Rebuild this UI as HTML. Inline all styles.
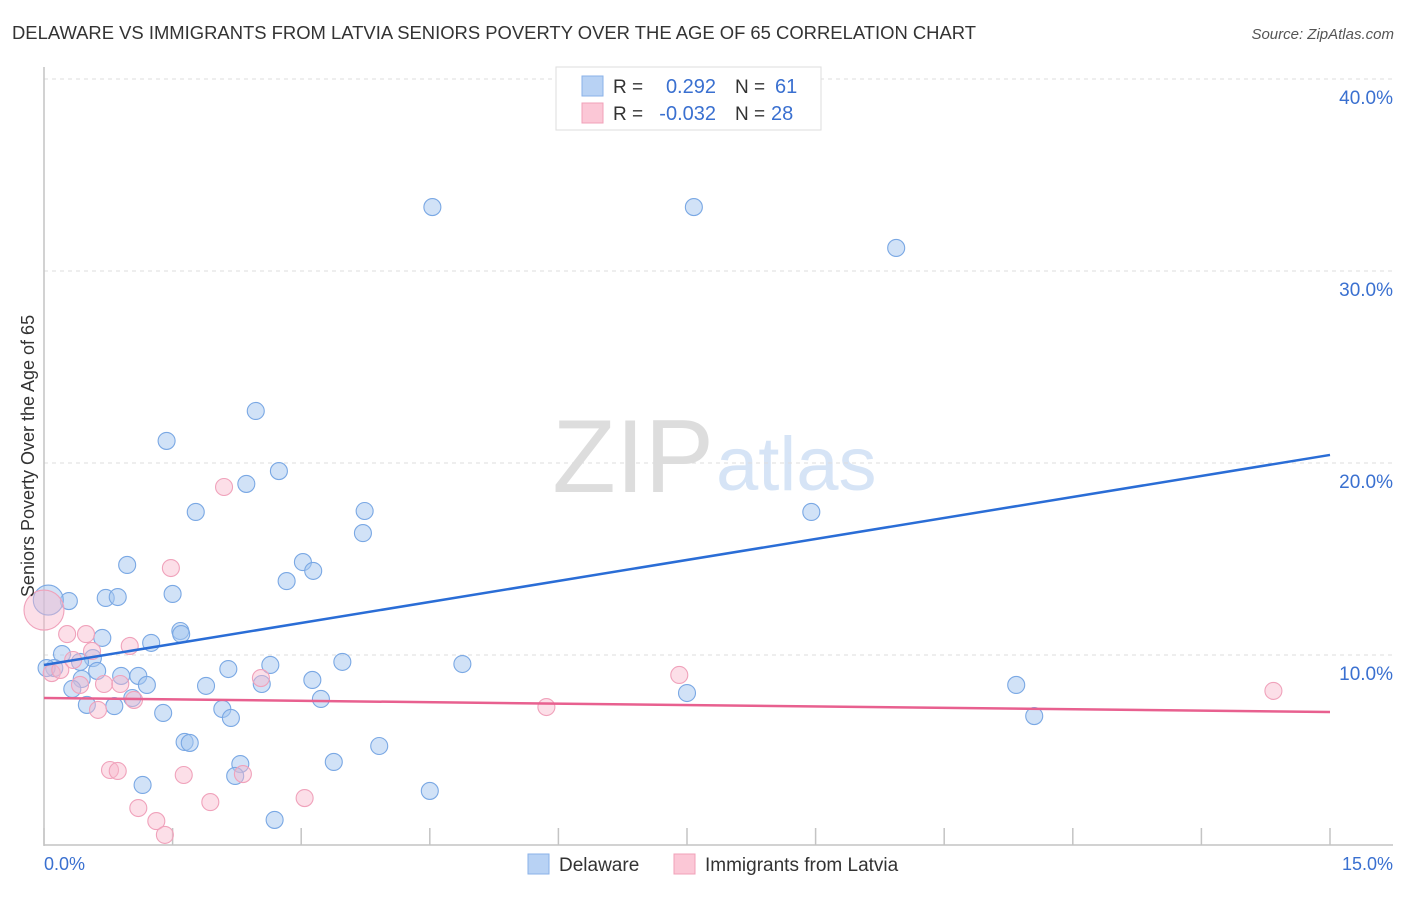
<!DOCTYPE html>
<html><head><meta charset="utf-8"><style>
body{margin:0;background:#fff;font-family:"Liberation Sans",sans-serif;}
svg text{font-family:"Liberation Sans",sans-serif;}
</style></head><body>
<svg id="chart" width="1406" height="892" viewBox="0 0 1406 892">
<text x="12" y="39" font-size="18" fill="#333" textLength="964" lengthAdjust="spacingAndGlyphs">DELAWARE VS IMMIGRANTS FROM LATVIA SENIORS POVERTY OVER THE AGE OF 65 CORRELATION CHART</text>
<text x="1394" y="39" font-size="15" fill="#555" font-style="italic" text-anchor="end">Source: ZipAtlas.com</text>
<text x="714" y="492" font-size="104" fill="#ddd" text-anchor="end" font-family="Liberation Serif">ZIP</text>
<text x="716" y="490" font-size="76" fill="#d6e4f6">atlas</text>
<g id="grid"></g>
<g id="axes"></g>
<g id="marks"></g>
<text x="34" y="456" font-size="18" fill="#333" text-anchor="middle" transform="rotate(-90 34 456)">Seniors Poverty Over the Age of 65</text>
<text x="44" y="870" font-size="18" fill="#3a70d0">0.0%</text>
<text x="1393" y="870" font-size="18" fill="#3a70d0" text-anchor="end">15.0%</text>
<g>
<rect x="556" y="67" width="265" height="63" fill="#fff" stroke="#ddd"/>
<rect x="582" y="76" width="21" height="20" fill="#b8d2f4" stroke="#8ab2e8"/>
<rect x="582" y="103" width="21" height="20" fill="#fbc7d6" stroke="#f0a0b8"/>
<text x="613" y="93" font-size="19" fill="#333">R = </text><text x="716" y="93" font-size="20" fill="#3a70d0" text-anchor="end">0.292</text>
<text x="735" y="93" font-size="19" fill="#333">N = </text><text x="775" y="93" font-size="20" fill="#3a70d0">61</text>
<text x="613" y="120" font-size="19" fill="#333">R = </text><text x="716" y="120" font-size="20" fill="#3a70d0" text-anchor="end">-0.032</text>
<text x="735" y="120" font-size="19" fill="#333">N = </text><text x="771" y="120" font-size="20" fill="#3a70d0">28</text>
</g>
<g>
<rect x="528" y="854" width="21" height="20" fill="#b8d2f4" stroke="#8ab2e8"/>
<text x="559" y="871" font-size="19" fill="#333">Delaware</text>
<rect x="674" y="854" width="21" height="20" fill="#fbc7d6" stroke="#f0a0b8"/>
<text x="705" y="871" font-size="19" fill="#333">Immigrants from Latvia</text>
</g>
</svg>
<script>
const yTicks=[10,20,30,40];
const yTickLabels=["10.0%","20.0%","30.0%","40.0%"];
const blueX=[4.53,7.58,9.94,2.47,1.43,2.74,2.36,1.77,3.74,8.95,3.72,0.97,3.02,3.14,2.83,0.72,0.86,0.29,1.50,1.59,1.60,0.68,1.25,0.21,0.57,0.42,0.12,0.62,0.90,1.10,0.44,1.20,0.33,1.89,2.15,2.64,2.54,3.13,3.48,4.88,7.50,11.34,11.55,3.23,0.50,0.82,1.03,1.39,2.08,2.18,1.64,1.70,3.91,3.38,2.29,2.23,1.15,4.50,2.69,0.05,0.03];
const blueY=[33.33,33.33,31.20,22.71,21.15,19.58,18.91,17.45,17.50,17.45,16.35,14.69,14.84,14.38,13.85,12.97,13.02,12.81,13.18,11.25,11.09,10.89,10.63,10.05,9.84,9.64,9.32,9.17,8.91,8.91,8.75,8.44,8.23,8.39,9.27,9.48,8.49,8.70,9.64,9.53,8.02,8.44,6.82,7.71,7.40,7.34,7.76,6.98,7.19,6.72,5.47,5.42,5.26,4.43,4.32,3.70,3.23,2.92,1.41,12.86,9.32];
const blueR=blueX.map((v,i)=>i===59?15:8.5);
const pinkX=[2.10,1.48,0.0,0.27,0.49,1.00,0.56,0.34,0.09,0.19,0.42,0.70,0.89,1.05,0.63,2.53,7.41,5.86,14.34,0.77,0.86,1.63,2.32,3.04,1.94,1.10,1.31,1.41];
const pinkY=[18.75,14.53,12.34,11.09,11.09,10.47,10.21,9.74,9.06,9.22,8.44,8.49,8.49,7.66,7.14,8.80,8.96,7.29,8.13,4.01,3.96,3.75,3.80,2.55,2.34,2.03,1.35,0.63];
const pinkR=pinkX.map((v,i)=>i===2?20:8.5);
const blueTrend=[9.48,20.42];
const pinkTrend=[7.76,7.03];
const xMax=15, xTicks=[0,1.5,3,4.5,6,7.5,9,10.5,12,13.5,15];
const NS="http://www.w3.org/2000/svg";
const sx=v=>44+v*(1286/xMax);
const sy=v=>847-v*19.2;
function mk(tag,attrs,parent){const e=document.createElementNS(NS,tag);for(const k in attrs)e.setAttribute(k,attrs[k]);parent.appendChild(e);return e;}
const grid=document.getElementById('grid'),axes=document.getElementById('axes'),marks=document.getElementById('marks');
yTicks.forEach((t,i)=>{
  const l=mk('line',{x1:44,x2:1393,y1:sy(t),y2:sy(t),stroke:'#ddd','stroke-dasharray':'4,4'},grid);
  
  
  const tx=mk('text',{x:1393,y:sy(t)+25,'font-size':19,fill:'#3a70d0','text-anchor':'end'},grid);
  tx.textContent=yTickLabels[i];
  
  
});
const ya=mk('line',{x1:44,x2:44,y1:67,y2:846,stroke:'#c4c4c4','stroke-width':1.5},axes);


const xa=mk('line',{x1:44,x2:1393,y1:845,y2:845,stroke:'#c4c4c4','stroke-width':1.5},axes);


xTicks.forEach(t=>{
  const l=mk('line',{x1:sx(t),x2:sx(t),y1:828,y2:845,stroke:'#c4c4c4','stroke-width':1.5},axes);
  
  
});
function dots(X,Y,R,fill,stroke,name){
  X.forEach((x,i)=>{
    const c=mk('circle',{cx:sx(x),cy:sy(Y[i]),r:R[i],fill:fill,stroke:stroke,'stroke-width':1.1},marks);
    
    
  });
}
dots(blueX,blueY,blueR,'rgba(164,198,240,0.5)','#7aa8e4','delaware-point');
dots(pinkX,pinkY,pinkR,'rgba(248,184,204,0.45)','#f0a2bb','latvia-point');
const bl=mk('line',{x1:sx(0),y1:sy(blueTrend[0]),x2:sx(xMax),y2:sy(blueTrend[1]),stroke:'#2a6dd6','stroke-width':2.5},marks);


const pl=mk('line',{x1:sx(0),y1:sy(pinkTrend[0]),x2:sx(xMax),y2:sy(pinkTrend[1]),stroke:'#e8608f','stroke-width':2.5},marks);


</script>
</body></html>
